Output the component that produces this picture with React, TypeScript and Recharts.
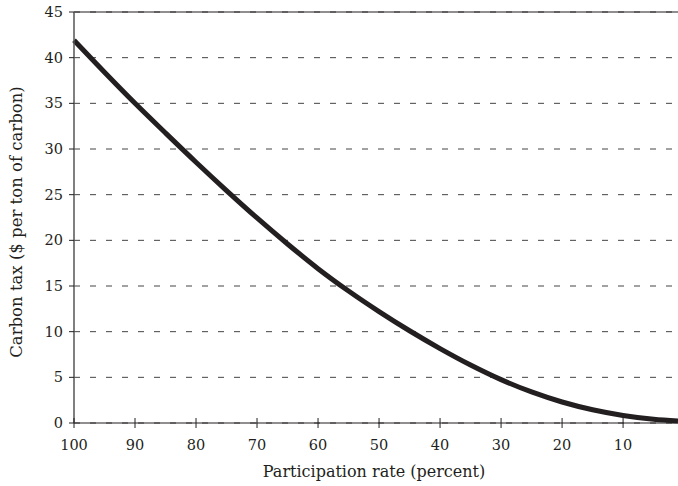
import { LineChart, Line, XAxis, YAxis, CartesianGrid, ReferenceLine } from 'recharts'

// participation rate (percent) and carbon tax ($ per ton of carbon)
const participation = [100, 95, 90, 85, 80, 75, 70, 65, 60, 55, 50, 45, 40, 35, 30, 25, 20, 15, 10, 5, 1]
const carbonTax = [41.9, 38.4, 35.0, 31.75, 28.55, 25.45, 22.45, 19.6, 16.9, 14.45, 12.2, 10.1, 8.15, 6.35, 4.75, 3.4, 2.3, 1.45, 0.83, 0.41, 0.21]

const xTicks = [100, 90, 80, 70, 60, 50, 40, 30, 20, 10]
const yTicks = [0, 5, 10, 15, 20, 25, 30, 35, 40, 45]

const data = participation.map((p, i) => ({ rate: p, tax: carbonTax[i] }))

const FONT = '"DejaVu Serif", serif'
const INK = '#231f20'

function XTick(props: any) {
  const { x, y, payload } = props
  return (
    <g>
      <line x1={x} x2={x} y1={y - 10} y2={y} stroke={INK} strokeWidth={1} />
      <text x={x} y={y + 22} textAnchor="middle" fontFamily={FONT} fontSize={14.5} fill={INK}>
        {payload.value}
      </text>
    </g>
  )
}

export default function App() {
  return (
    <div style={{ position: 'absolute', left: 0, top: 0, background: '#fff' }}>
      <LineChart width={678} height={486} data={data} margin={{ top: 12, right: 0, left: 0, bottom: 0 }}>
        <CartesianGrid vertical={false} stroke="#444" strokeDasharray="6 10" />
        <ReferenceLine y={45} stroke={INK} strokeWidth={1.2} />
        <XAxis
          dataKey="rate"
          type="number"
          domain={[1, 100]}
          reversed
          ticks={xTicks}
          interval={0}
          height={63}
          tickLine={false}
          tickSize={5}
          tickMargin={0}
          tick={<XTick />}
          axisLine={{ stroke: INK, strokeWidth: 1.2 }}
          label={{
            content: () => (
              <text x={374} y={477} textAnchor="middle" fontFamily={FONT} fontSize={16} fill={INK}>
                Participation rate (percent)
              </text>
            ),
          }}
        />
        <YAxis
          type="number"
          domain={[0, 45]}
          ticks={yTicks}
          interval={0}
          width={74}
          tickSize={5}
          tickMargin={6}
          tickLine={{ stroke: INK }}
          axisLine={{ stroke: '#555', strokeWidth: 1.5 }}
          tick={{ fontFamily: FONT, fontSize: 14.5, fill: INK }}
          label={{
            content: () => (
              <text
                transform="translate(22,222) rotate(-90)"
                textAnchor="middle"
                fontFamily={FONT}
                fontSize={16.5}
                fill={INK}
              >
                Carbon tax ($ per ton of carbon)
              </text>
            ),
          }}
        />
        <Line
          type="monotone"
          dataKey="tax"
          stroke={INK}
          strokeWidth={5}
          dot={false}
          isAnimationActive={false}
        />
      </LineChart>
    </div>
  )
}
